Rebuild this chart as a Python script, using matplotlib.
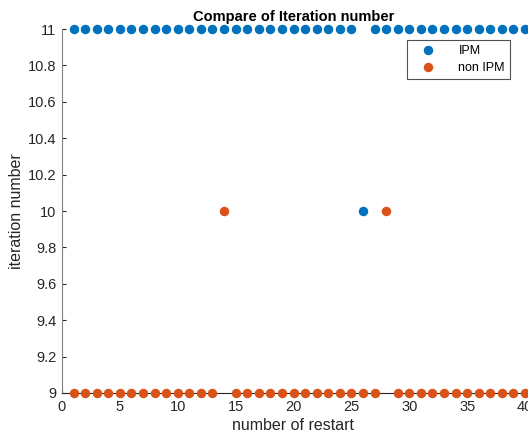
import matplotlib
matplotlib.use("Agg")
import matplotlib.pyplot as plt
import numpy as np

plt.rcParams['font.family'] = ['Liberation Sans', 'DejaVu Sans']

restart = list(range(1, 41))
ipm = [11]*40
ipm[25] = 10          # restart 26
non_ipm = [9]*40
non_ipm[13] = 10      # restart 14
non_ipm[27] = 10      # restart 28

fig = plt.figure(figsize=(5.28, 4.41), dpi=100)
ax = fig.add_axes([62/528, 48/441, 463/528, 364/441])
ax.plot(restart, ipm, 'o', color='#0072BD', markersize=5.8, label='IPM', clip_on=False, zorder=3)
ax.plot(restart, non_ipm, 'o', color='#D95319', markersize=5.8, label='non IPM', clip_on=False, zorder=3)

ax.set_xlim(0, 40)
ax.set_ylim(9, 11)
ax.set_xticks(np.arange(0, 41, 5))
ax.set_yticks(np.arange(9, 11.01, 0.2))
ax.set_yticklabels(['9', '9.2', '9.4', '9.6', '9.8', '10', '10.2', '10.4', '10.6', '10.8', '11'])
ax.tick_params(direction='in', labelsize=10.5, colors='#262626', length=3)
ax.tick_params(axis='x', pad=5)
ax.tick_params(axis='y', pad=4)
ax.spines['top'].set_visible(False)
ax.spines['right'].set_visible(False)
ax.spines['left'].set_color('#808080')
ax.spines['bottom'].set_color('#262626')
ax.set_xlabel('number of restart', fontsize=11.5, color='#262626', labelpad=3)
ax.set_ylabel('iteration number', fontsize=11.5, color='#262626', labelpad=3)
ax.set_title('Compare of Iteration number', fontsize=10.5, fontweight='bold', pad=6)
leg = ax.legend(loc='upper right', bbox_to_anchor=(0.9676, 0.97), fontsize=9, frameon=True, fancybox=False,
                edgecolor='#262626', handletextpad=1.2, handlelength=2.5, borderpad=0.4, labelspacing=0.4,
                borderaxespad=0)
leg.get_frame().set_linewidth(0.8)
fig.savefig('out.png', dpi=100)
